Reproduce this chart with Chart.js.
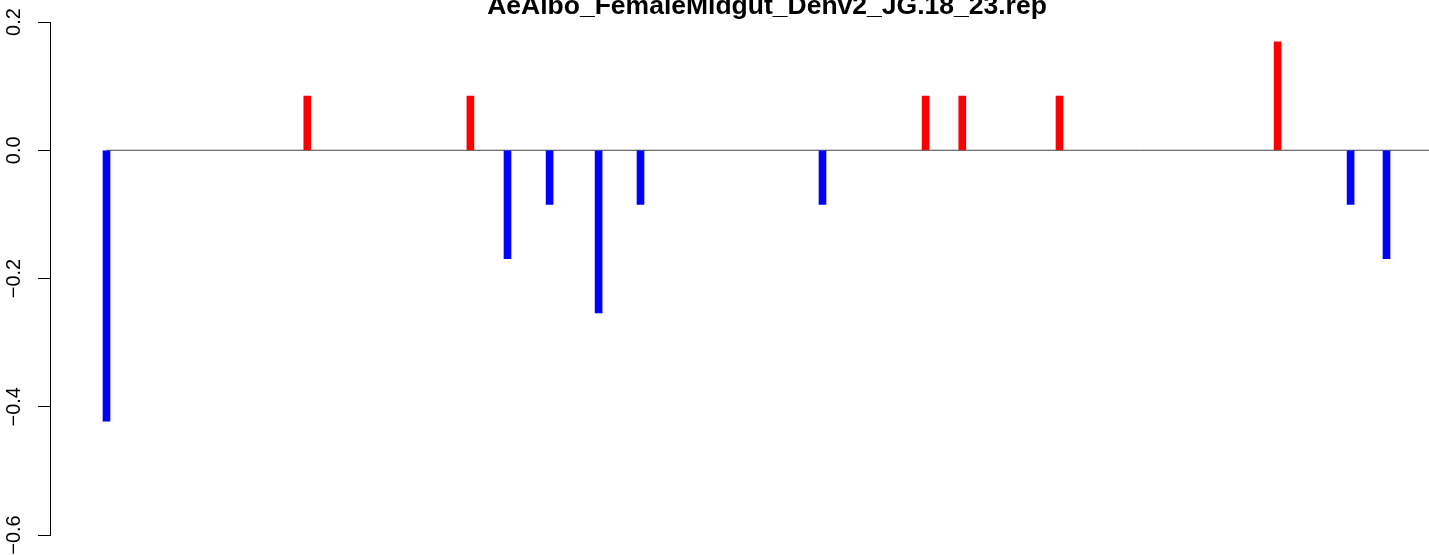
<!DOCTYPE html>
<html>
<head>
<meta charset="utf-8">
<script src="https://cdn.jsdelivr.net/npm/chart.js@4.4.1/dist/chart.umd.min.js"></script>
<style>
  html, body { margin: 0; padding: 0; background: #fff; overflow: hidden; }
  #wrap { position: relative; width: 1484px; height: 555px; }
</style>
</head>
<body>
<div id="wrap"><canvas id="plot"></canvas></div>
<script>
const chartTitle = 'AeAlbo_FemaleMidgut_Denv2_JG.18_23.rep';

// positions along the sequence (plot units) and their values
const positions = [56.5, 257.3, 420.4, 457.5, 499.6, 548.6, 590.5, 772.5, 875.6, 912.3, 1009.5, 1227.6, 1300.6, 1336.5];
const values = [-0.4225, 0.0845, 0.0845, -0.169, -0.0845, -0.2535, -0.0845, -0.0845, 0.0845, 0.0845, 0.0845, 0.169, -0.0845, -0.169];

const xRange = [0, 1434];
const yTicks = [-0.6, -0.4, -0.2, 0, 0.2];
const yTickLabels = ['\u22120.6', '\u22120.4', '\u22120.2', '0.0', '0.2'];

const barData = positions.map((p, i) => ({ x: p, y: values[i] }));
const barColors = values.map((v) => (v >= 0 ? '#ff0000' : '#0000ff'));
const zeroLine = [{ x: positions[0], y: 0 }, { x: xRange[1], y: 0 }];

const rAxisLabels = {
  id: 'rAxisLabels',
  afterDraw(chart) {
    const ctx = chart.ctx;
    const yScale = chart.scales.y;
    const area = chart.chartArea;
    ctx.save();
    ctx.fillStyle = '#000';
    ctx.font = '20px "Liberation Sans", Arial, sans-serif';
    ctx.textAlign = 'center';
    ctx.textBaseline = 'alphabetic';
    yTicks.forEach((t, i) => {
      const py = yScale.getPixelForValue(t);
      ctx.save();
      ctx.translate(20, py);
      ctx.rotate(-Math.PI / 2);
      ctx.fillText(yTickLabels[i], 0, 0);
      ctx.restore();
    });
    ctx.font = 'bold 26.5px "Liberation Sans", Arial, sans-serif';
    ctx.fillText(chartTitle, (area.left + area.right) / 2, 14);
    ctx.restore();
  },
};

new Chart(document.getElementById('plot'), {
  type: 'bar',
  data: {
    datasets: [
      {
        type: 'line',
        data: zeroLine,
        borderColor: '#444',
        borderWidth: 1,
        pointRadius: 0,
        fill: false,
        order: 2,
      },
      {
        data: barData,
        backgroundColor: barColors,
        borderWidth: 0,
        barThickness: 7,
        order: 1,
      },
    ],
  },
  options: {
    responsive: true,
    maintainAspectRatio: false,
    animation: false,
    layout: { padding: { top: 22, bottom: 20, left: 0, right: 0 } },
    plugins: {
      legend: { display: false },
      tooltip: { enabled: false },
      title: { display: false },
    },
    scales: {
      x: {
        type: 'linear',
        min: xRange[0],
        max: xRange[1],
        offset: false,
        display: false,
      },
      y: {
        type: 'linear',
        min: -0.6,
        max: 0.2,
        afterBuildTicks: (scale) => {
          scale.ticks = yTicks.map((v) => ({ value: v }));
        },
        afterFit: (scale) => {
          scale.width = 50;
        },
        ticks: { display: false },
        grid: {
          display: true,
          drawOnChartArea: false,
          drawTicks: true,
          tickLength: 12,
          color: '#000',
          lineWidth: 1,
        },
        border: { display: true, color: '#000', width: 1 },
      },
    },
  },
  plugins: [rAxisLabels],
});
</script>
</body>
</html>
